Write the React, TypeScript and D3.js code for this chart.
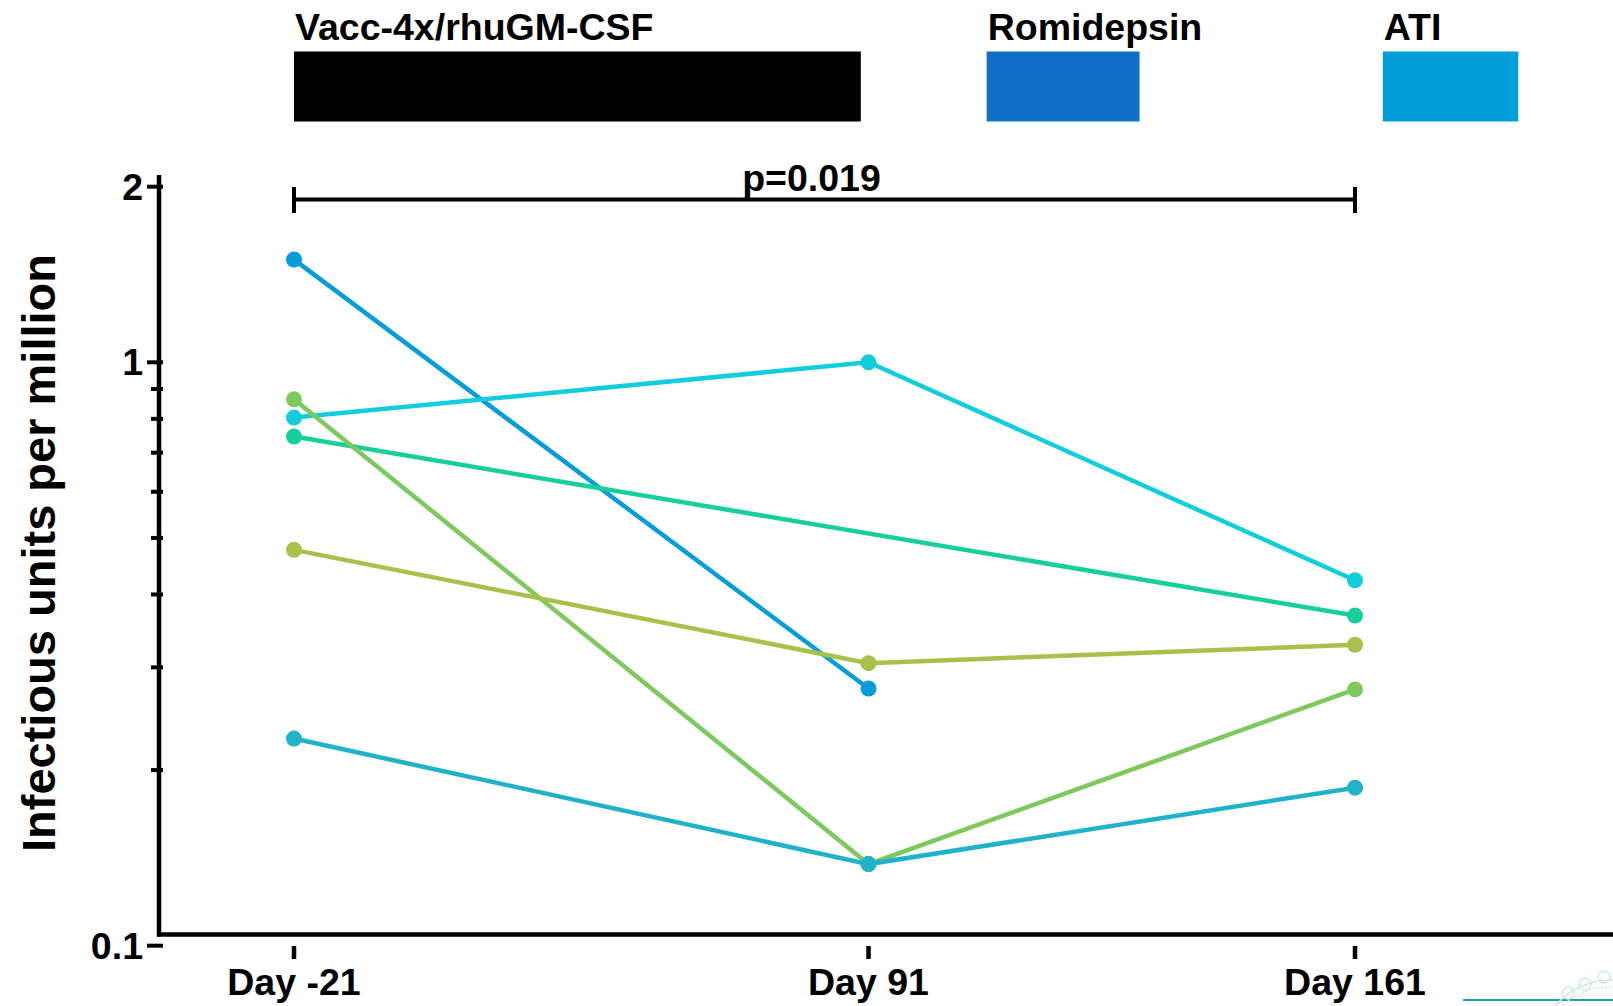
import * as d3 from "d3";

const days = [-21, 91, 161];
const dayLabels = ["Day -21", "Day 91", "Day 161"];

const majorTicks = [0.1, 1, 2];
const minorTicks = [0.2, 0.3, 0.4, 0.5, 0.6, 0.7, 0.8, 0.9];

// one entry per participant, null = no measurement
const blueVals = [1.5, 0.276, null];
const cyanVals = [0.804, 1.0, 0.423];
const tealVals = [0.746, null, 0.368];
const greenVals = [0.864, 0.138, 0.275];
const oliveVals = [0.477, 0.305, 0.328];
const steelVals = [0.2265, 0.138, 0.1866];

const seriesColors = ["#079ddb", "#12cedc", "#16cf9b", "#7dc95e", "#a6c24a", "#21b2cb"];
const seriesVals = [blueVals, cyanVals, tealVals, greenVals, oliveVals, steelVals];

const phaseNames = ["Vacc-4x/rhuGM-CSF", "Romidepsin", "ATI"];
const phaseStart = [-21, 108, 165];
const phaseEnd = [89.5, 130, 184.5];
const phaseColors = ["#000000", "#1070c8", "#039fda"];

const pValue = "p=0.019";

const W = 1613;
const H = 1006;
const font = "'Liberation Sans', Arial, Helvetica, sans-serif";
const fs = 37.5;

const x = d3.scaleLinear().domain(days).range([294, 868.5, 1355]);
const y = d3.scaleLog().domain([0.1, 2]).range([945.7, 186.7]);

const axisX = 159;
const axisBottom = 934.5;

const line = d3
  .line<{ d: number; v: number | null }>()
  .defined((p) => p.v != null)
  .x((p) => x(p.d))
  .y((p) => y(p.v as number));

function App() {
  return (
    <div style={{ position: "absolute", left: 0, top: 0, background: "#fff" }}>
      <svg width={W} height={H} style={{ display: "block" }}>
        {/* treatment phases */}
        {phaseNames.map((name, i) => (
          <g key={name}>
            <text
              x={x(phaseStart[i]) + 1}
              y={40}
              fontFamily={font}
              fontWeight="bold"
              fontSize={fs}
              fill="#000"
            >
              {name}
            </text>
            <rect
              x={x(phaseStart[i])}
              y={51.5}
              width={x(phaseEnd[i]) - x(phaseStart[i])}
              height={70}
              fill={phaseColors[i]}
            />
          </g>
        ))}

        {/* significance bracket */}
        <g stroke="#000" strokeWidth={4}>
          <line x1={x(days[0])} x2={x(days[2])} y1={199.6} y2={199.6} />
          <line x1={x(days[0])} x2={x(days[0])} y1={187} y2={213} />
          <line x1={x(days[2])} x2={x(days[2])} y1={187} y2={213} />
        </g>
        <text
          x={x(91) - 57}
          y={191}
          textAnchor="middle"
          fontFamily={font}
          fontWeight="bold"
          fontSize={fs}
        >
          {pValue}
        </text>

        {/* y axis */}
        <line x1={axisX} x2={axisX} y1={175} y2={axisBottom + 2} stroke="#000" strokeWidth={4.5} />
        {majorTicks.map((t) => (
          <g key={t}>
            <line x1={147} x2={163} y1={y(t)} y2={y(t)} stroke="#000" strokeWidth={4} />
            <text
              x={143}
              y={y(t) + 13}
              textAnchor="end"
              fontFamily={font}
              fontWeight="bold"
              fontSize={fs}
            >
              {t}
            </text>
          </g>
        ))}
        {minorTicks.map((t) => (
          <line key={t} x1={151} x2={163} y1={y(t)} y2={y(t)} stroke="#000" strokeWidth={4} />
        ))}
        <text
          transform={`translate(55,553) rotate(-90)`}
          textAnchor="middle"
          fontFamily={font}
          fontWeight="bold"
          fontSize={47}
        >
          Infectious units per million
        </text>

        {/* x axis */}
        <line x1={axisX - 2} x2={W} y1={axisBottom} y2={axisBottom} stroke="#000" strokeWidth={4.5} />
        {days.map((d, i) => (
          <g key={d}>
            <line x1={x(d)} x2={x(d)} y1={946} y2={959} stroke="#000" strokeWidth={4.5} />
            <text
              x={x(d)}
              y={995}
              textAnchor="middle"
              fontFamily={font}
              fontWeight="bold"
              fontSize={fs}
            >
              {dayLabels[i]}
            </text>
          </g>
        ))}

        {/* participants */}
        {seriesVals.map((vals, s) => {
          const pts = days.map((d, i) => ({ d, v: vals[i] }));
          return (
            <g key={s}>
              <path
                d={line(pts.filter((p) => p.v != null)) || ""}
                fill="none"
                stroke={seriesColors[s]}
                strokeWidth={4.5}
              />
              {pts
                .filter((p) => p.v != null)
                .map((p) => (
                  <circle
                    key={p.d}
                    cx={x(p.d)}
                    cy={y(p.v as number)}
                    r={8}
                    fill={seriesColors[s]}
                  />
                ))}
            </g>
          );
        })}

        {/* corner logo remnant */}
        <line x1={1463} x2={W} y1={1000} y2={1000} stroke="#1aa5a3" strokeWidth={2} />
        <g fill="none" stroke="#c6ebe8" strokeWidth={1.5}>
          <path d="M1555,1006 A75,75 0 0 1 1613,980" />
          <path d="M1562,1006 A68,68 0 0 1 1613,987" strokeDasharray="2 2" />
          <circle cx={1585} cy={984} r={6} />
          <circle cx={1604} cy={977} r={6} />
          <circle cx={1568} cy={993} r={6} />
        </g>
      </svg>
    </div>
  );
}

export default App;
